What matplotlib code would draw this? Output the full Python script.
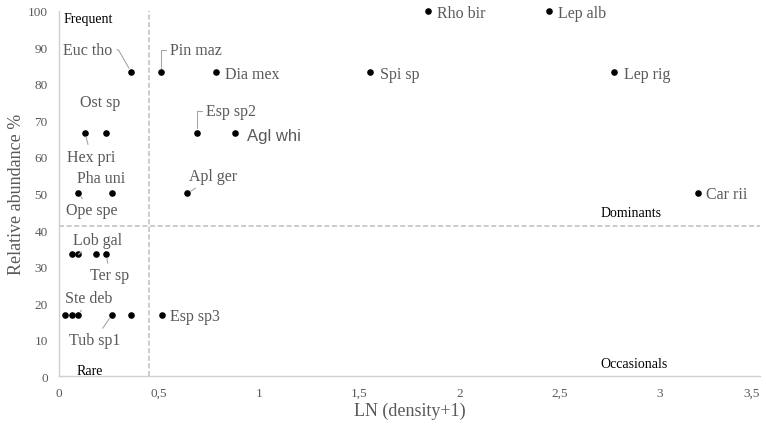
#importing libraries
import numpy as np
import matplotlib.pyplot as plt
from matplotlib.ticker import FuncFormatter

#species data: LN(density+1) and relative abundance %
species = ["Rho bir", "Lep alb", "Euc tho", "Pin maz", "Dia mex", "Spi sp", "Lep rig",
           "Ost sp", "Hex pri", "Esp sp2", "Agl whi", "Pha uni", "Ope spe", "Apl ger", "Car rii",
           "Lob gal", "Lob gal 2", "Ter sp 2", "Ter sp",
           "Ste deb 1", "Ste deb 2", "Ste deb", "Tub sp1", "Tub sp1 2", "Esp sp3"]
density = [1.845, 2.445, 0.36, 0.51, 0.785, 1.555, 2.77,
           0.235, 0.13, 0.69, 0.88, 0.263, 0.097, 0.64, 3.19,
           0.063, 0.097, 0.183, 0.237,
           0.03, 0.063, 0.097, 0.263, 0.36, 0.513]
abundance = [100, 100, 83.33, 83.33, 83.33, 83.33, 83.33,
             66.67, 66.67, 66.67, 66.67, 50, 50, 50, 50,
             33.33, 33.33, 33.33, 33.33,
             16.67, 16.67, 16.67, 16.67, 16.67, 16.67]

#thresholds splitting the quadrants
density_cut = 0.45
abundance_cut = 41

#label placement: name -> (text shown, dx px, dy px, ha, leader style)
labels = {
    "Euc tho": ("Euc tho", -43, 22, "center", "angle,angleA=0,angleB=120,rad=0"),
    "Pin maz": ("Pin maz", 9, 22, "left", "angle,angleA=0,angleB=90,rad=0"),
    "Dia mex": ("Dia mex", 9, -2, "left", None),
    "Spi sp": ("Spi sp", 10, -2, "left", None),
    "Rho bir": ("Rho bir", 9, -2, "left", None),
    "Lep alb": ("Lep alb", 9, -2, "left", None),
    "Lep rig": ("Lep rig", 10, -2, "left", None),
    "Car rii": ("Car rii", 8, -1, "left", None),
    "Esp sp2": ("Esp sp2", 9, 22, "left", "angle,angleA=0,angleB=90,rad=0"),
    "Agl whi": ("Agl whi", 12, -3, "left", None),
    "Ost sp": ("Ost sp", -6, 31, "center", None),
    "Hex pri": ("Hex pri", 6, -24, "center", "arc3"),
    "Pha uni": ("Pha uni", -11, 15, "center", None),
    "Ope spe": ("Ope spe", 13, -17, "center", "arc3"),
    "Apl ger": ("Apl ger", 26, 17, "center", "arc3"),
    "Lob gal 2": ("Lob gal", 19, 14, "center", "arc3"),
    "Ter sp": ("Ter sp", 3, -21, "center", "arc3"),
    "Ste deb": ("Ste deb", 10, 17, "center", "arc3"),
    "Tub sp1": ("Tub sp1", -17, -25, "center", "arc3"),
    "Esp sp3": ("Esp sp3", 8, -1, "left", None),
}

grey = "#595959"
plt.rcParams["font.family"] = ["Liberation Serif", "DejaVu Serif"]

fig, ax = plt.subplots(figsize=(7.66, 4.27), dpi=100)
fig.subplots_adjust(left=0.077, right=0.992, bottom=0.117, top=0.972)

#quadrant dividers
ax.axvline(density_cut, color="#c8c8c8", lw=1.3, ls=(0, (2.8, 1.4)), zorder=1)
ax.axhline(abundance_cut, color="#c8c8c8", lw=1.3, ls=(0, (2.8, 1.4)), zorder=1)

ax.scatter(density, abundance, s=14, color="black", zorder=3, clip_on=False)

#point labels
for name, x, y in zip(species, density, abundance):
    if name not in labels:
        continue
    text, dx, dy, ha, conn = labels[name]
    kw = dict(fontsize=11.5, color=grey)
    if name == "Agl whi":
        #this one is in a sans font in the original
        kw.update(family="Liberation Sans", fontsize=12)
    arrow = None
    if conn is not None:
        arrow = dict(arrowstyle="-", color="#a6a6a6", lw=0.8, shrinkA=1, shrinkB=3,
                     connectionstyle=conn)
    ax.annotate(text, (x, y), xytext=(dx, dy), textcoords="offset pixels",
                ha=ha, va="center", arrowprops=arrow, zorder=4, annotation_clip=False, **kw)

#quadrant names
ax.text(0.025, 97.8, "Frequent", fontsize=10, color="black", va="center")
ax.text(0.09, 1.4, "Rare", fontsize=10, color="black", va="center")
ax.text(2.705, 44.9, "Dominants", fontsize=10, color="black", va="center")
ax.text(2.705, 3.3, "Occasionals", fontsize=10, color="black", va="center")

#axes styling
ax.set_xlim(0, 3.5)
ax.set_ylim(0, 100)
ax.set_xticks(np.arange(0, 3.51, 0.5))
ax.set_yticks(np.arange(0, 101, 10))
ax.xaxis.set_major_formatter(FuncFormatter(lambda v, p: ("%g" % v).replace(".", ",")))
ax.tick_params(length=0, labelsize=9.5, labelcolor=grey, pad=8)
#last tick label would hang off the edge
ax.get_xticklabels()[-1].set_ha("right")
for side in ["top", "right"]:
    ax.spines[side].set_visible(False)
for side in ["left", "bottom"]:
    ax.spines[side].set_color("#d0d0d0")
    ax.spines[side].set_linewidth(1)

ax.set_xlabel("LN (density+1)", fontsize=13, color=grey, labelpad=2)
ax.set_ylabel("Relative abundance %", fontsize=13, color=grey, labelpad=2)

plt.savefig("out.png", dpi=100)
